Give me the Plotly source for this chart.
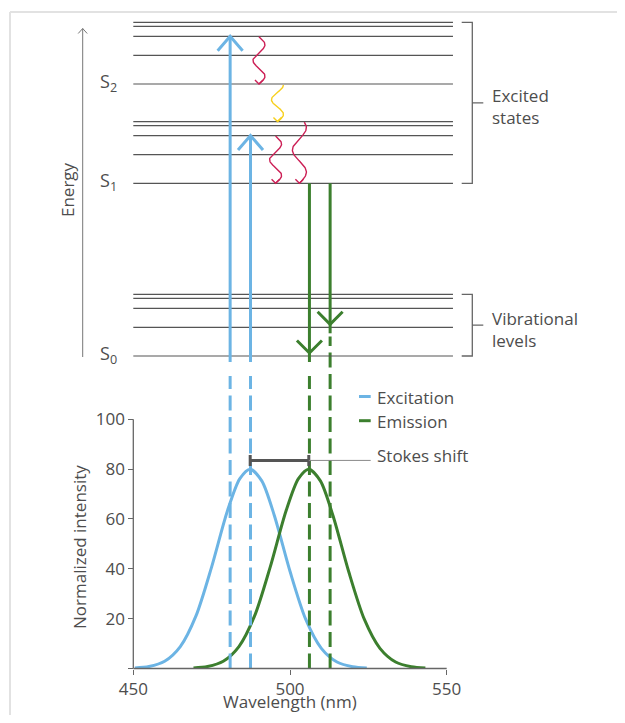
import numpy as np
import plotly.graph_objects as go

# ---------------- data ----------------
exc_wavelength = [450.5, 455.0, 460.0, 465.0, 470.0, 475.0, 480.0, 484.0, 487.3,
                  491.0, 495.0, 500.0, 505.0, 510.0, 515.0, 520.0, 524.5]
exc_intensity = [0.2, 0.8, 2.9, 8.8, 21.1, 40.8, 63.1, 76.2, 80.0,
                 75.3, 61.4, 39.0, 19.8, 8.1, 2.6, 0.7, 0.2]
emi_wavelength = [469.2, 473.7, 478.7, 483.7, 488.7, 493.7, 498.7, 502.7, 506.0,
                  509.7, 513.7, 518.7, 523.7, 528.7, 533.7, 538.7, 543.2]
emi_intensity = [0.2, 0.8, 2.9, 8.8, 21.1, 40.8, 63.1, 76.2, 80.0,
                 75.3, 61.4, 39.0, 19.8, 8.1, 2.6, 0.7, 0.2]

state_labels = ["S<sub>0</sub>", "S<sub>1</sub>", "S<sub>2</sub>"]
state_energy = [0.0, 17.27, 27.2]          # arbitrary energy units
vib_offsets = [0.0, 2.87, 4.77, 5.77, 6.17]  # vibrational sub-levels
level_span_nm = [450.0, 552.0]

excitation_nm = [480.9, 487.4]
excitation_to = [(2, 2), (1, 2)]            # (state, vibrational level)
emission_nm = [506.2, 512.8]
emission_from = (1, 0)
emission_to = [(0, 0), (0, 1)]

relax_center_nm = [490.1, 496.0, 495.4, 503.0]
relax_from = [(2, 2), (2, 0), (1, 2), (1, 4)]
relax_to = [(2, 0), (1, 4), (1, 0), (1, 0)]
relax_kind = ["vr", "ic", "vr", "vr"]

stokes_level = 83.5
x_ticks = [450, 500, 550]
y_ticks = [0, 20, 40, 60, 80, 100]
y_ticktext = ["", "20", "40", "60", "80", "100"]

# ---------------- layout geometry (screen pixels; page has an 8px body margin) ----------------
OFF = 8
FW, FH = 609, 707
X450_PX, X550_PX = 133.3, 446.7
NM_PX = (X550_PX - X450_PX) / 100.0
Y0_PX, Y100_PX = 668.5, 419.3
INT_PX = (Y0_PX - Y100_PX) / 100.0
S0_PX, E_PX = 356.0, 10.0
YTOP_PX = 320.0


def pxx(x):
    return (x - OFF) / FW


def pxy(y):
    return 1 - (y - OFF) / FH


def lvl(sv):
    return state_energy[sv[0]] + vib_offsets[sv[1]]


BLUE = "#6cb4e4"
GREEN = "#3c7f2e"
RED = "#cc1f55"
YELLOW = "#f7cf1c"
TXT = "#4d4d4d"
GRAY = "#555555"
FONT = "Open Sans"

fig = go.Figure()

# energy levels
lx, ly = [], []
for e in state_energy:
    for v in vib_offsets:
        lx += [level_span_nm[0], level_span_nm[1], None]
        ly += [e + v, e + v, None]
fig.add_trace(go.Scatter(x=lx, y=ly, xaxis="x", yaxis="y2", mode="lines",
                         line=dict(color=GRAY, width=1.2), hoverinfo="skip", showlegend=False))

# wavy relaxation arrows
phases = [(0.0, 3.0), (0.5, 3.0), (0.0, 3.0), (0.25, 3.0)]
amps_px = [6, 6, 6, 7]
for c, f, t, k, ph, a in zip(relax_center_nm, relax_from, relax_to, relax_kind, phases, amps_px):
    e0 = lvl(f) - (0.05 if k == "vr" else 0.1)
    e1 = lvl(t)
    s = np.linspace(0, 1, 90)
    phi = np.pi * (ph[0] + (ph[1] - ph[0]) * s)
    xs = c + (a / NM_PX) * np.sin(phi)
    ys = e0 + (e1 - e0) * s
    col = YELLOW if k == "ic" else RED
    fig.add_trace(go.Scatter(x=xs, y=ys, xaxis="x", yaxis="y2", mode="lines",
                             line=dict(color=col, width=1.4), hoverinfo="skip", showlegend=False))
    xe, ye = xs[-1], ys[-1]
    fig.add_trace(go.Scatter(x=[xe - 4 / NM_PX, xe, xe + 4 / NM_PX], y=[ye + 4 / E_PX, ye, ye + 4 / E_PX],
                             xaxis="x", yaxis="y2", mode="lines",
                             line=dict(color=col, width=1.4), hoverinfo="skip", showlegend=False))

# excitation arrows (up)
for nm, to in zip(excitation_nm, excitation_to):
    et = lvl(to)
    fig.add_trace(go.Scatter(x=[nm, nm], y=[-6 / E_PX, et], xaxis="x", yaxis="y2", mode="lines",
                             line=dict(color=BLUE, width=3), hoverinfo="skip", showlegend=False))
    fig.add_trace(go.Scatter(x=[nm - 12.5 / NM_PX, nm, nm + 12.5 / NM_PX],
                             y=[et - 14.5 / E_PX, et, et - 14.5 / E_PX], xaxis="x", yaxis="y2", mode="lines",
                             line=dict(color=BLUE, width=3), hoverinfo="skip", showlegend=False))

# emission arrows (down)
for nm, to in zip(emission_nm, emission_to):
    et = lvl(to) + 3 / E_PX
    fig.add_trace(go.Scatter(x=[nm, nm], y=[lvl(emission_from), et - 9 / E_PX], xaxis="x", yaxis="y2",
                             mode="lines", line=dict(color=GREEN, width=3), hoverinfo="skip", showlegend=False))
    fig.add_trace(go.Scatter(x=[nm - 12.5 / NM_PX, nm, nm + 12.5 / NM_PX],
                             y=[et + 12.5 / E_PX, et, et + 12.5 / E_PX], xaxis="x", yaxis="y2", mode="lines",
                             line=dict(color=GREEN, width=3), hoverinfo="skip", showlegend=False))

# spectra
fig.add_trace(go.Scatter(x=exc_wavelength, y=exc_intensity, mode="lines", name="Excitation",
                         line=dict(color=BLUE, width=3, shape="spline", smoothing=0.8),
                         showlegend=False))
fig.add_trace(go.Scatter(x=emi_wavelength, y=emi_intensity, mode="lines", name="Emission",
                         line=dict(color=GREEN, width=3, shape="spline", smoothing=0.8),
                         showlegend=False))

# dashed drop lines
dash_top = [(Y0_PX - 376) / INT_PX, (Y0_PX - 376) / INT_PX]
dash_top_em = [(Y0_PX - 376) / INT_PX, (Y0_PX - 336.5) / INT_PX]
for nm, top in zip(excitation_nm, dash_top):
    fig.add_trace(go.Scatter(x=[nm, nm], y=[0, top], mode="lines",
                             line=dict(color=BLUE, width=3, dash="15px,6.5px"),
                             hoverinfo="skip", showlegend=False))
for nm, top in zip(emission_nm, dash_top_em):
    fig.add_trace(go.Scatter(x=[nm, nm], y=[0, top], mode="lines",
                             line=dict(color=GREEN, width=3, dash="15px,6.5px"),
                             hoverinfo="skip", showlegend=False))

# Stokes shift
exc_peak = exc_wavelength[int(np.argmax(exc_intensity))]
emi_peak = emi_wavelength[int(np.argmax(emi_intensity))]
cap = 5.5 / INT_PX
fig.add_trace(go.Scatter(x=[exc_peak, emi_peak, None, exc_peak, exc_peak, None, emi_peak, emi_peak],
                         y=[stokes_level, stokes_level, None, stokes_level - cap, stokes_level + cap, None,
                            stokes_level - cap, stokes_level + cap],
                         mode="lines", line=dict(color="#555555", width=3),
                         hoverinfo="skip", showlegend=False))
conn_end = 450 + (370.7 - X450_PX) / NM_PX
fig.add_trace(go.Scatter(x=[emi_peak, conn_end], y=[stokes_level, stokes_level], mode="lines",
                         line=dict(color="#8a8a8a", width=1), hoverinfo="skip", showlegend=False))

shapes = []
# axis lines
shapes.append(dict(type="line", xref="x", yref="y domain", x0=450, x1=550, y0=0, y1=0,
                   line=dict(color="#666666", width=1.3)))
shapes.append(dict(type="line", xref="x", yref="y", x0=450, x1=450, y0=0, y1=100,
                   line=dict(color="#666666", width=1.3)))
# frame
shapes.append(dict(type="line", xref="paper", yref="paper", x0=pxx(10), x1=1, y0=pxy(12), y1=pxy(12),
                   line=dict(color="#e2e2e2", width=2)))
shapes.append(dict(type="line", xref="paper", yref="paper", x0=pxx(10), x1=pxx(10), y0=pxy(12), y1=0,
                   line=dict(color="#e2e2e2", width=2)))
# energy arrow
ax_x = pxx(82.7)
shapes.append(dict(type="path", xref="paper", yref="paper",
                   path=f"M{ax_x},{pxy(357)} L{ax_x},{pxy(28.5)} M{pxx(78.2)},{pxy(33.5)} "
                        f"L{ax_x},{pxy(28.5)} L{pxx(87.2)},{pxy(33.5)}",
                   line=dict(color="#777777", width=1)))
# brackets
bx, bl, br = pxx(472.3), pxx(461.7), pxx(483.3)
for lo, hi in [(lvl((1, 0)), lvl((2, 4))), (lvl((0, 0)), lvl((0, 4)))]:
    mid = (lo + hi) / 2
    shapes.append(dict(type="path", xref="paper", yref="y2",
                       path=f"M{bl},{hi} L{bx},{hi} L{bx},{lo} L{bl},{lo} M{bx},{mid} L{br},{mid}",
                       line=dict(color="#666666", width=1.3)))
# legend lines
for yy, col in [(396.5, BLUE), (420.7, GREEN)]:
    shapes.append(dict(type="line", xref="paper", yref="paper", x0=pxx(359), x1=pxx(370.7),
                       y0=pxy(yy), y1=pxy(yy), line=dict(color=col, width=3)))

ann = []


def txt(text, x, y, xref="paper", yref="paper", xanchor="center", yanchor="middle", angle=0,
        size=17, yshift=0, align="left"):
    ann.append(dict(text=text, x=x, y=y, xref=xref, yref=yref, xanchor=xanchor, yanchor=yanchor,
                    textangle=angle, showarrow=False, yshift=yshift, align=align,
                    font=dict(family=FONT, size=size, color=TXT)))


txt("Wavelength (nm)", pxx(290), 0, yanchor="bottom", size=17)
txt("Normalized intensity", pxx(79), pxy(547), angle=-90)
txt("Energy", pxx(67), pxy(190), angle=-90)
for lab, e in zip(state_labels, state_energy):
    txt(lab, pxx(119), e, yref="y2", xanchor="right", size=18, yshift=2)
txt("Excited<br>states", pxx(490), (lvl((1, 0)) + lvl((2, 4))) / 2, yref="y2", xanchor="left", yshift=-4)
txt("Vibrational<br>levels", pxx(490), (lvl((0, 0)) + lvl((0, 4))) / 2, yref="y2", xanchor="left", yshift=-4)
txt("Excitation", pxx(375), pxy(397.5), xanchor="left")
txt("Emission", pxx(375), pxy(421.5), xanchor="left")
txt("Stokes shift", pxx(375), stokes_level, xref="paper", yref="y", xanchor="left", yshift=5)

fig.update_layout(
    width=FW, height=FH,
    margin=dict(l=0, r=0, t=0, b=0, pad=0),
    paper_bgcolor="white", plot_bgcolor="rgba(0,0,0,0)",
    font=dict(family=FONT, size=17, color=TXT),
    showlegend=False,
    xaxis=dict(domain=[0, 1],
               range=[450 - (X450_PX - OFF) / NM_PX, 450 + (OFF + FW - X450_PX) / NM_PX],
               tickvals=x_ticks, ticks="outside", ticklen=5, tickwidth=1.3, tickcolor="#666666",
               showline=False, showgrid=False, zeroline=False, anchor="y",
               tickfont=dict(family=FONT, size=17, color=TXT)),
    yaxis=dict(domain=[pxy(Y0_PX), pxy(YTOP_PX)], range=[0, (Y0_PX - YTOP_PX) / INT_PX],
               anchor="free", position=pxx(X450_PX), tickvals=y_ticks, ticktext=y_ticktext,
               ticks="outside", ticklen=5, tickwidth=1.3, tickcolor="#666666",
               showline=False, showgrid=False, zeroline=False,
               tickfont=dict(family=FONT, size=17, color=TXT)),
    yaxis2=dict(domain=[0, 1], range=[(S0_PX - OFF - FH) / E_PX, (S0_PX - OFF) / E_PX], anchor="x",
                visible=False, showgrid=False, zeroline=False),
    shapes=shapes,
    annotations=ann,
)

fig.write_html("out.html")
